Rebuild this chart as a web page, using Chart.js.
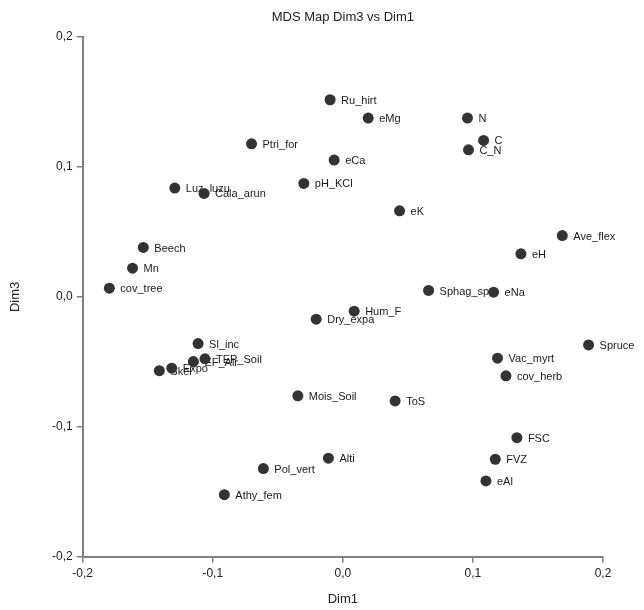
<!DOCTYPE html>
<html>
<head>
<meta charset="utf-8">
<script src="https://cdn.jsdelivr.net/npm/chart.js@4/dist/chart.umd.min.js"></script>
<style>
  html, body { margin: 0; padding: 0; background: #fff; }
  #wrap { width: 644px; height: 610px; }
</style>
</head>
<body>
<div id="wrap"><canvas id="c" width="644" height="610"></canvas></div>
<script>
const chartTitle = 'MDS Map Dim3 vs Dim1';
const xTitle = 'Dim1';
const yTitle = 'Dim3';
const tickValues = [-0.2, -0.1, 0.0, 0.1, 0.2];
const tickLabels = ['-0,2', '-0,1', '0,0', '0,1', '0,2'];

const names = ['Ru_hirt','eMg','N','C','C_N','Ptri_for','eCa','pH_KCl','Luz_luzu','Cala_arun',
  'eK','Ave_flex','Beech','eH','Mn','cov_tree','Sphag_sp','eNa','Hum_F','Dry_expa',
  'Sl_inc','Spruce','Vac_myrt','TEP_Soil','EF_Air','Expo','Skel','cov_herb','Mois_Soil','ToS',
  'FSC','FVZ','Alti','Pol_vert','eAl','Athy_fem'];
const dim1 = [-0.0098, 0.0195, 0.0958, 0.1082, 0.0966, -0.0702, -0.0067, -0.0300, -0.1292, -0.1067,
  0.0436, 0.1687, -0.1534, 0.1369, -0.1617, -0.1795, 0.0659, 0.1159, 0.0087, -0.0205,
  -0.1113, 0.1889, 0.1189, -0.1060, -0.1149, -0.1315, -0.1411, 0.1254, -0.0346, 0.0402,
  0.1338, 0.1172, -0.0111, -0.0611, 0.1100, -0.0911];
const dim3 = [0.1517, 0.1376, 0.1376, 0.1204, 0.1132, 0.1178, 0.1053, 0.0873, 0.0837, 0.0796,
  0.0662, 0.0472, 0.0380, 0.0331, 0.0221, 0.0067, 0.0049, 0.0036, -0.0110, -0.0172,
  -0.0360, -0.0370, -0.0472, -0.0477, -0.0498, -0.0549, -0.0568, -0.0608, -0.0762, -0.0801,
  -0.1084, -0.1250, -0.1242, -0.1322, -0.1417, -0.1523];

const points = names.map((n, i) => ({ x: dim1[i], y: dim3[i], label: n }));

function fmtTick(v) {
  const idx = tickValues.findIndex(t => Math.abs(t - v) < 1e-9);
  return idx >= 0 ? tickLabels[idx] : '';
}

const FONT = "'Liberation Sans', Arial, sans-serif";

const labelPlugin = {
  id: 'pointLabels',
  beforeDatasetsDraw(chart) {
    const ctx = chart.ctx;
    const meta = chart.getDatasetMeta(0);
    ctx.save();
    ctx.font = '11px ' + FONT;
    ctx.fillStyle = '#1a1a1a';
    ctx.textAlign = 'left';
    ctx.textBaseline = 'middle';
    meta.data.forEach((el, i) => {
      ctx.fillText(points[i].label, el.x + 11, el.y + 1);
    });
    ctx.restore();
  }
};

const titlePlugin = {
  id: 'customTitle',
  afterDraw(chart) {
    const ctx = chart.ctx;
    const area = chart.chartArea;
    ctx.save();
    ctx.font = '13px ' + FONT;
    ctx.fillStyle = '#222';
    ctx.textAlign = 'center';
    ctx.textBaseline = 'middle';
    ctx.fillText(chartTitle, (area.left + area.right) / 2, 17);
    ctx.restore();
  }
};

new Chart(document.getElementById('c'), {
  type: 'scatter',
  data: {
    datasets: [{
      data: points,
      backgroundColor: '#333333',
      borderColor: '#333333',
      borderWidth: 0,
      pointRadius: 5.5,
      pointHoverRadius: 5.5
    }]
  },
  options: {
    responsive: false,
    animation: false,
    events: [],
    layout: { padding: { top: 37, right: 41, bottom: 0, left: 0 } },
    plugins: {
      legend: { display: false },
      title: { display: false },
      tooltip: { enabled: false }
    },
    scales: {
      x: {
        type: 'linear',
        min: -0.2, max: 0.2,
        afterFit(scale) { scale.height = 53.3; },
        afterBuildTicks(scale) { scale.ticks = tickValues.map(v => ({ value: v })); },
        border: { display: true, color: '#808080', width: 2 },
        grid: { display: true, drawOnChartArea: false, drawTicks: true, tickLength: 6, color: '#808080', lineWidth: 1.5 },
        ticks: { callback: v => fmtTick(v), color: '#222', font: { family: FONT, size: 12 }, padding: 4, maxRotation: 0 },
        title: { display: true, text: xTitle, color: '#222', font: { family: FONT, size: 13 }, padding: { top: 0, bottom: 3 } }
      },
      y: {
        type: 'linear',
        min: -0.2, max: 0.2,
        afterFit(scale) { scale.width = 82.7; },
        afterBuildTicks(scale) { scale.ticks = tickValues.map(v => ({ value: v })); },
        border: { display: true, color: '#808080', width: 2 },
        grid: { display: true, drawOnChartArea: false, drawTicks: true, tickLength: 6, color: '#808080', lineWidth: 1.5 },
        ticks: { callback: v => fmtTick(v), color: '#222', font: { family: FONT, size: 12 }, padding: 4 },
        title: { display: true, text: yTitle, color: '#222', font: { family: FONT, size: 13 }, padding: { top: 8, bottom: 0 } }
      }
    }
  },
  plugins: [labelPlugin, titlePlugin]
});
</script>
</body>
</html>
